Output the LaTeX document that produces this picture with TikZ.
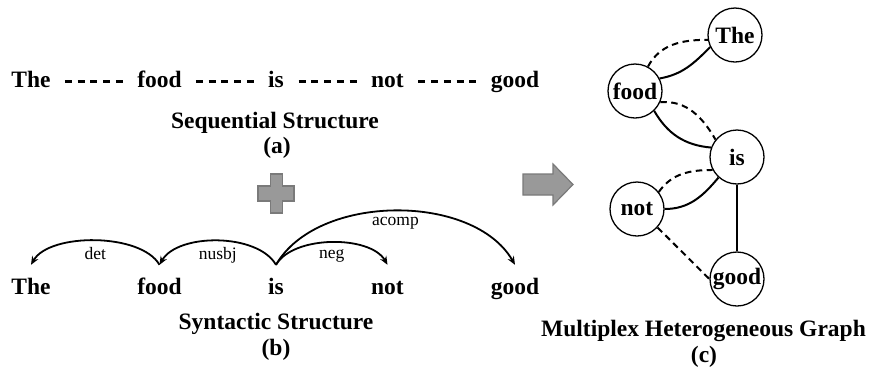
\documentclass[tikz,border=0pt]{standalone}
\usepackage{fontspec}
\setmainfont{Liberation Serif}
\usetikzlibrary{arrows.meta,calc}
\definecolor{boxgray}{HTML}{999999}
\definecolor{boxedge}{HTML}{7A7A7A}
\begin{document}
\begin{tikzpicture}[x=1pt,y=1pt,
  word/.style={font=\fontsize{23.5}{26}\selectfont\bfseries, inner sep=0pt, text height=16pt, text depth=5pt, anchor=base},
  capt/.style={font=\fontsize{23.5}{26}\selectfont\bfseries, inner sep=0pt, anchor=base},
  lbl/.style={font=\fontsize{17.5}{20}\selectfont, inner sep=0pt},
  seqdash/.style={line width=3pt, dash pattern=on 7pt off 5.75pt},
  deparc/.style={line width=1.8pt, -{Stealth[length=8.5pt,width=7pt]}},
  gnode/.style={circle, draw, line width=1.3pt, minimum size=54pt, inner sep=0pt, font=\fontsize{23.5}{26}\selectfont\bfseries},
  sedge/.style={line width=2pt},
  dedge/.style={line width=2pt, dash pattern=on 6.5pt off 4.5pt},
  graybox/.style={fill=boxgray, draw=boxedge, line width=1.2pt}
]
\useasboundingbox (0,0) rectangle (871,-376);

% (a) sequential structure
\node[word] (a1) at (31,-87) {The};
\node[word] (a2) at (159.5,-87) {food};
\node[word] (a3) at (276,-87) {is};
\node[word] (a4) at (387.5,-87) {not};
\node[word] (a5) at (515,-87) {good};
\foreach \p/\q in {a1/a2,a2/a3,a3/a4,a4/a5}{
  \draw[seqdash] ($(\p.base east)!.5!(\q.base west)+(-29,5.4)$) -- ($(\p.base east)!.5!(\q.base west)+(29,5.4)$);
}
\node[capt] (seqc) at (275,-128) {Sequential Structure};
\node[capt] (seqa) at (277,-153) {(a)};

% plus sign
\draw[graybox] (270.5,-174) -- (282.5,-174) -- (282.5,-186) -- (294,-186) -- (294,-201) -- (282.5,-201) -- (282.5,-213) -- (270.5,-213) -- (270.5,-201) -- (258,-201) -- (258,-186) -- (270.5,-186) -- cycle;

% (b) syntactic structure
\node[word] (b1) at (31,-294.5) {The};
\node[word] (b2) at (159.5,-294.5) {food};
\node[word] (b3) at (276,-294.5) {is};
\node[word] (b4) at (387.5,-294.5) {not};
\node[word] (b5) at (515,-294.5) {good};
\coordinate (t1) at ([yshift=13.5pt]b1.north);
\coordinate (t2) at ([yshift=13.5pt]b2.north);
\coordinate (t3) at ([yshift=13.5pt]b3.north);
\coordinate (t4) at ([yshift=13.5pt]b4.north);
\coordinate (t5) at ([yshift=13.5pt]b5.north);
\draw[deparc] (t2) to[out=120,in=60,looseness=0.74] node[lbl,below=6pt,midway] (ldet) {det} (t1);
\draw[deparc] (t3) to[out=120,in=60,looseness=0.81] node[lbl,below=6pt,midway] (lnsubj) {nusbj} (t2);
\draw[deparc] (t3) to[out=60,in=120,looseness=0.79] node[lbl,below=6pt,midway] (lneg) {neg} (t4);
\draw[deparc] (t3) to[out=60,in=120,looseness=0.89] node[lbl,below=5.5pt,midway] (lacomp) {acomp} (t5);
\node[capt] (sync) at (276,-329) {Syntactic Structure};
\node[capt] (synb) at (276,-355) {(b)};

% big arrow
\draw[graybox] (523,-174) -- (553,-174) -- (553,-164) -- (573,-184.5) -- (553,-205) -- (553,-195) -- (523,-195) -- cycle;

% (c) graph
\node[gnode] (gThe) at (735,-35) {The};
\node[gnode] (gfood) at (635,-91) {food};
\node[gnode] (gis) at (737,-157) {is};
\node[gnode] (gnot) at (637,-209) {not};
\node[gnode] (ggood) at (737,-279) {good};
\draw[dedge] (gfood.62) to[out=62,in=180] (gThe.190);
\draw[sedge] (gfood.27) to[out=10,in=225] (gThe.206);
\draw[dedge] (gfood.-24) to[out=5,in=120] (gis.141);
\draw[sedge] (gfood.-46) to[out=-60,in=175] (gis.160);
\draw[dedge] (gnot.38) to[out=55,in=180] (gis.208);
\draw[sedge] (gnot.0) to[out=0,in=230] (gis.228);
\draw[sedge] (gis) -- (ggood);
\draw[dedge] (gnot.-42) -- (ggood.180);
\node[capt] (mhg) at (703.5,-336.5) {Multiplex Heterogeneous Graph};
\node[capt] (mhgc) at (704,-362) {(c)};
\end{tikzpicture}
\end{document}
